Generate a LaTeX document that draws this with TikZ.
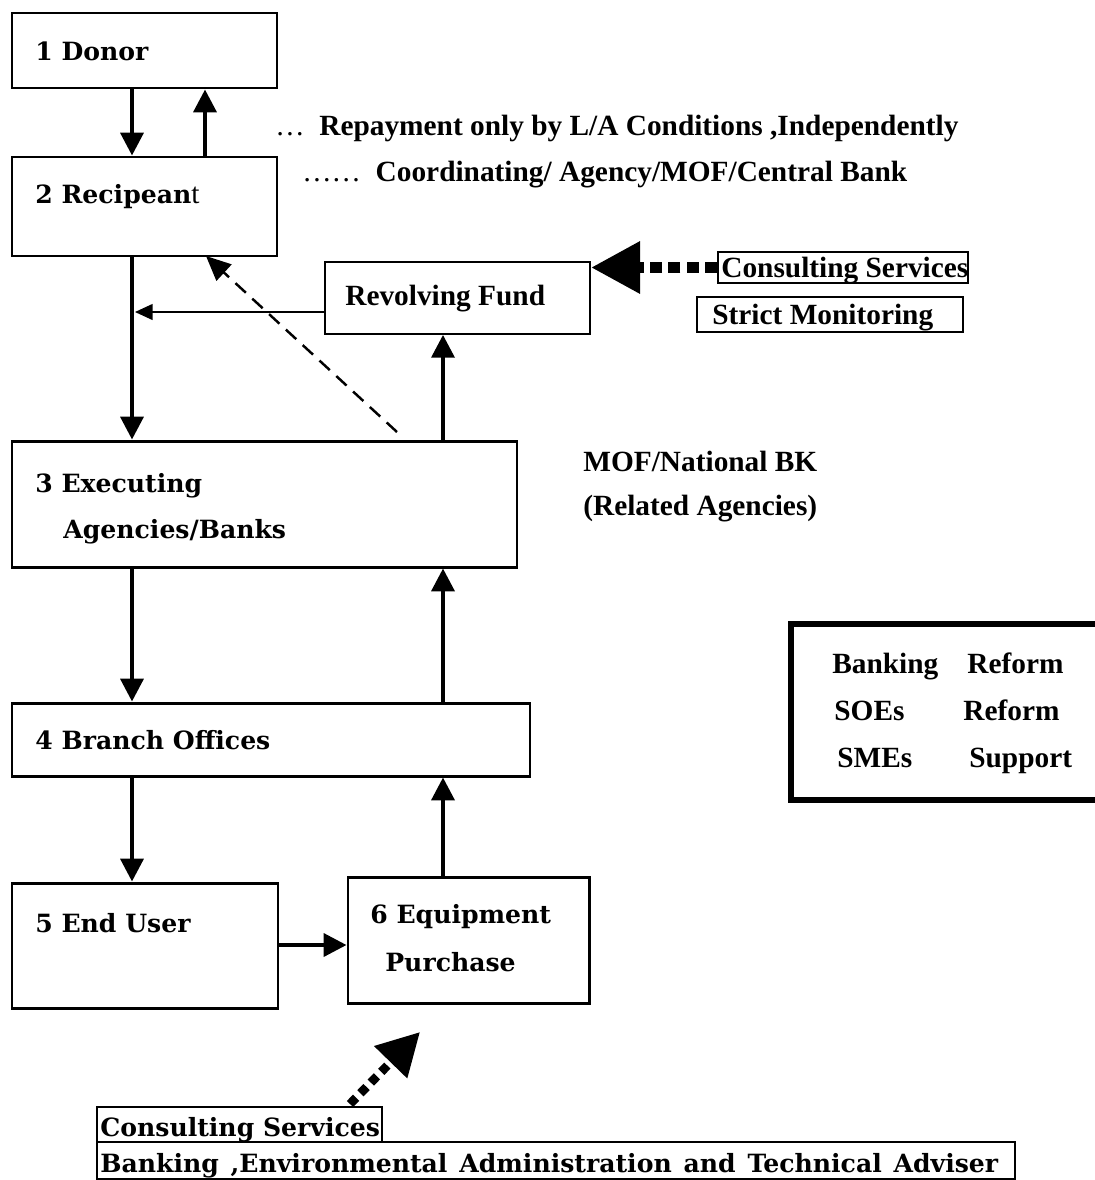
\documentclass[tikz,border=0pt]{standalone}
\usepackage{fontspec}
\setmainfont{Liberation Serif}
\newfontfamily\widefont{DejaVu Serif}
\usetikzlibrary{arrows.meta,fit}

\tikzset{
  box/.style={draw, line width=1.7pt, inner sep=0pt},
  thinbox/.style={draw, line width=1pt, inner sep=0pt},
  tagbox/.style={draw, line width=1.2pt, inner sep=0pt},
  heavybox/.style={draw, line width=3.4pt, inner sep=0pt},
  flow/.style={line width=2.3pt, -{Triangle[length=13pt,width=13pt]}},
  feed/.style={line width=0.9pt, -{Triangle[length=10pt,width=9pt]}},
  report/.style={line width=1.4pt, dash pattern=on 8pt off 5pt, -{Triangle[length=14pt,width=12.5pt]}},
  advise/.style={line width=6.8pt, dash pattern=on 6.8pt off 3.6pt, -{Triangle[length=28pt,width=28pt]}},
  adviseb/.style={line width=5pt, dash pattern=on 5pt off 3.5pt, -{Triangle[length=24pt,width=25pt]}},
  tm/.style={font=\fontsize{16.7}{18}\selectfont\bfseries, inner sep=0pt, anchor=base west},
  wd/.style={font=\widefont\fontsize{14.3}{16}\selectfont\bfseries, inner sep=0pt, anchor=base west},
}

\begin{document}
\begin{tikzpicture}[x=0.02cm, y=-0.02cm]
\useasboundingbox (0,0) rectangle (1095,1180);
\begin{scope}
\clip (0,0) rectangle (1095,1180);

% column guides for the vertical connectors
\coordinate (colA) at (132,0);
\coordinate (colB) at (205,0);
\coordinate (colC) at (443,0);

% main chain of boxes
\node[box, fit={(12,13) (277,88)}] (donor) {};
\node[box, fit={(12,157) (277,256)}] (recip) {};
\node[thinbox, fit={(325,262) (590,334)}] (rev) {};
\node[box, fit={(12,441) (517,567)}] (exec) {};
\node[box, fit={(12,703) (530,776)}] (branch) {};
\node[box, fit={(12,883) (278,1008)}] (user) {};
\node[box, fit={(348,877) (589,1003)}] (equip) {};

% side boxes
\node[tagbox, fit={(718,252) (968,283)}] (cons) {};
\node[tagbox, fit={(697,297) (963,332)}] (strict) {};
\node[heavybox, fit={(791,624) (1110,800)}] (reform) {};
\node[tagbox, fit={(97,1107) (382,1142)}] (bcons) {};
\node[tagbox, fit={(97,1142) (1015,1179)}] (badv) {};

% texts in the chain
\node[wd] (tdonor) at (35,60) {1 Donor};
\node[wd] (trecip) at (35,203) {2 Recipean{\normalfont\fontsize{16.7}{18}\selectfont t}};
\node[tm] (trev) at (345,305) {Revolving Fund};
\node[wd] (texec1) at (35,492) {3 Executing};
\node[wd] (texec2) at (63,538) {Agencies/Banks};
\node[wd] (tbranch) at (35,749) {4 Branch Offices};
\node[wd] (tuser) at (35,932) {5 End User};
\node[wd] (tequip1) at (370,923) {6 Equipment};
\node[wd] (tequip2) at (385,971) {Purchase};

% legend lines
\node[tm] (leg1) at (275,135) {{\mdseries …}\ \ Repayment only by L/A Conditions ,Independently};
\node[tm] (leg2) at (302,181) {{\mdseries ……}\ \ Coordinating/ Agency/MOF/Central Bank};

% side texts
\node[tm] (tcons) at (721,277) {Consulting Services};
\node[tm] (tstrict) at (712,324) {Strict Monitoring};
\node[tm] (tmof) at (583,471) {MOF/National BK};
\node[tm] (trel) at (583,515) {(Related Agencies)};
\node[tm] (r1a) at (832,673) {Banking};
\node[tm] (r1b) at (967,673) {Reform};
\node[tm] (r2a) at (834,720) {SOEs};
\node[tm] (r2b) at (963,720) {Reform};
\node[tm] (r3a) at (837,767) {SMEs};
\node[tm] (r3b) at (969,767) {Support};
\node[wd] (tbcons) at (100,1136) {Consulting Services};
\node[wd] (tbadv) at (100,1172) {\spaceskip=0.47em\relax Banking ,Environmental Administration and Technical Adviser};

% flows between the boxes
\draw[flow] (donor.south -| colA) -- (recip.north -| colA);
\draw[flow] (recip.north -| colB) -- (donor.south -| colB);
\draw[flow] (recip.south -| colA) -- (exec.north -| colA);
\draw[flow] (exec.north -| colC) -- (rev.south -| colC);
\draw[flow] (exec.south -| colA) -- (branch.north -| colA);
\draw[flow] (branch.north -| colC) -- (exec.south -| colC);
\draw[flow] (branch.south -| colA) -- (user.north -| colA);
\draw[flow] (equip.north -| colC) -- (branch.south -| colC);
\coordinate (ay) at (0,945);
\draw[flow] (user.east |- ay) -- (equip.west |- ay);

% revolving fund feeding back into the recipient line
\coordinate (rj) at (135,312);
\draw[feed] (rev.west |- rj) -- (rj);

% dashed report line to the recipient
\coordinate (dstart) at (397,432);
\coordinate (dtip) at (206,256);
\draw[report] (dstart) -- (dtip);

% consulting inputs
\draw[advise] (cons.west) -- (cons.west -| rev.east);
\coordinate (bstart) at (350,1104);
\coordinate (btip) at (420,1032);
\draw[adviseb] (bstart) -- (btip);
\end{scope}
\end{tikzpicture}
\end{document}
